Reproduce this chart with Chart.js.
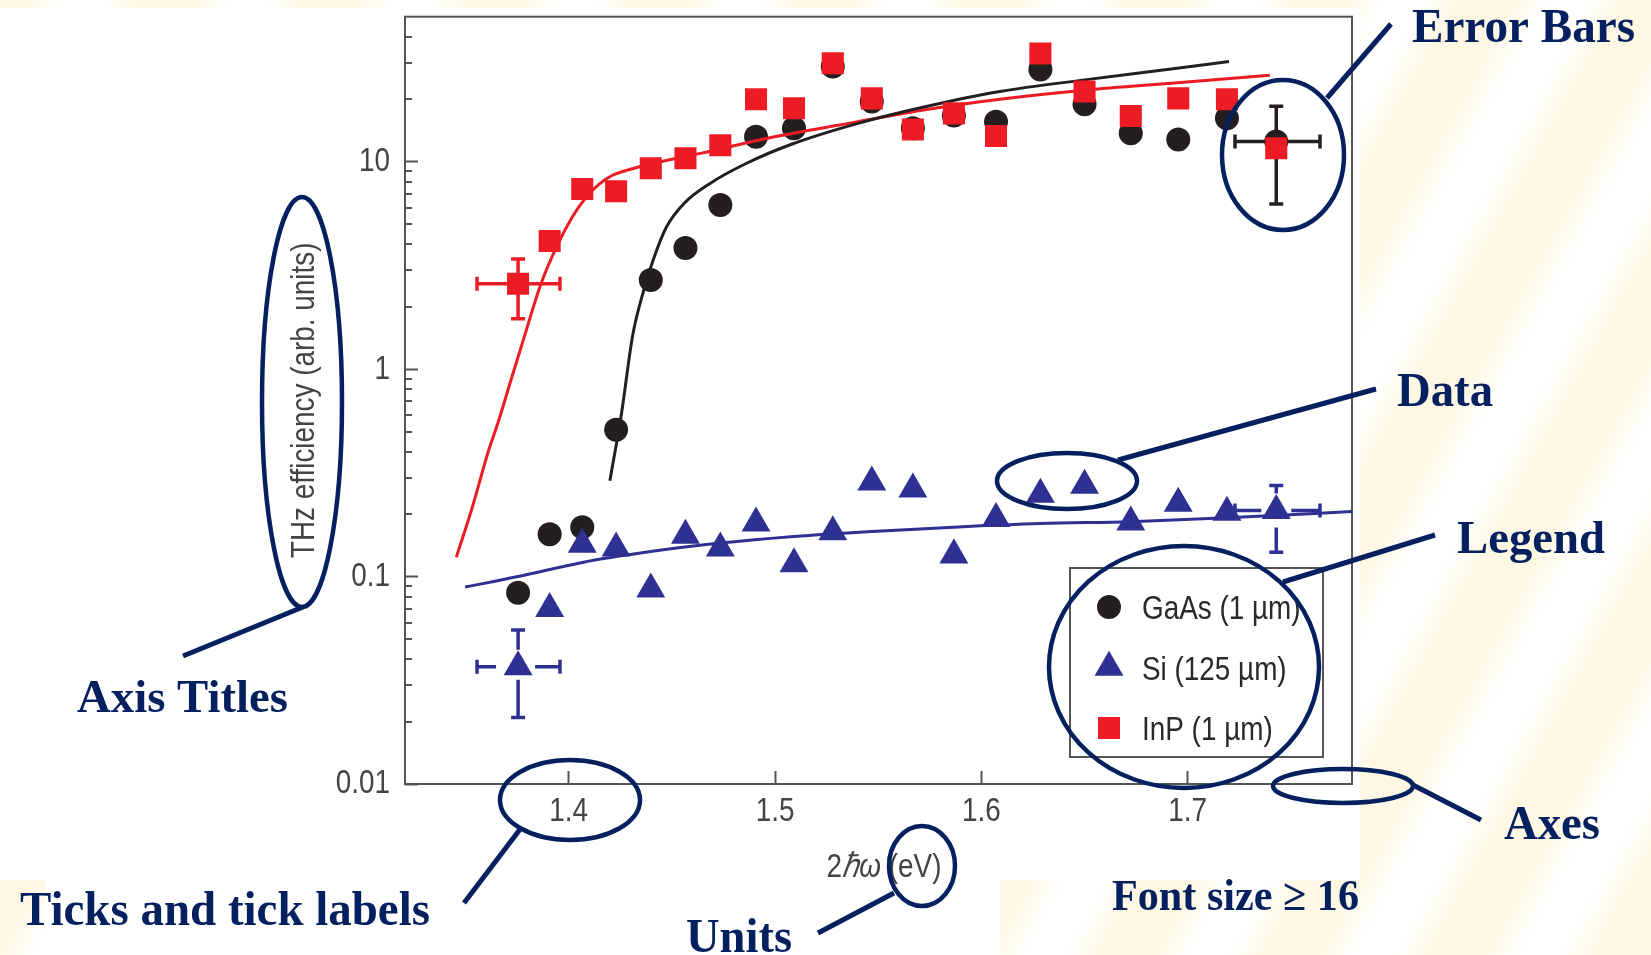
<!DOCTYPE html>
<html lang="fr">
<head>
<meta charset="utf-8">
<title>THz efficiency</title>
<script src="https://cdn.jsdelivr.net/npm/chart.js@4.4.1/dist/chart.umd.min.js"></script>
<style>
  html, body { margin: 0; padding: 0; background: #fffdf6; }
  #conteneur { position: relative; width: 1651px; height: 955px; }
  canvas { display: block; }
</style>
</head>
<body>
<div id="conteneur"><canvas id="mon-canvas" width="1651" height="955"></canvas></div>
<script>
// Energie 2ħω (eV), commune aux trois séries
const energie = [1.3755, 1.3908, 1.4066, 1.423, 1.4398, 1.4566, 1.4735, 1.4908, 1.5092, 1.528,
  1.5469, 1.5668, 1.5867, 1.6071, 1.6286, 1.65, 1.6724, 1.6954, 1.719, 1.7429];
const gaas = [0.0836, 0.160, 0.173, 0.51, 2.69, 3.84, 6.18, 13.2, 14.5, 28.8,
  19.5, 14.5, 16.7, 15.6, 27.8, 18.9, 13.7, 12.8, 16.2, 12.5];
const si = [0.0367, 0.070, 0.143, 0.137, 0.087, 0.158, 0.137, 0.181, 0.115, 0.164,
  0.285, 0.264, 0.127, 0.190, 0.249, 0.275, 0.183, 0.225, 0.204, 0.208];
const inp = [2.58, 4.15, 7.38, 7.21, 9.30, 10.4, 12.0, 20.0, 18.1, 29.8,
  20.2, 14.3, 17.1, 13.3, 33.2, 21.8, 16.6, 20.2, 20.0, 11.6];

// Courbes d'ajustement
const fitGaasX = [1.420, 1.4256, 1.431, 1.4364, 1.4407, 1.4472, 1.456, 1.4689, 1.486, 1.5077, 1.5402, 1.5727, 1.609, 1.65, 1.69, 1.72];
const fitGaasY = [0.29, 0.61, 1.45, 2.4, 3.3, 4.8, 6.3, 7.9, 9.8, 12.1, 15.3, 18.4, 21.8, 24.8, 27.8, 30.4];
const fitInpX = [1.3456, 1.3535, 1.3607, 1.3661, 1.3715, 1.378, 1.3866, 1.3942, 1.4017, 1.4083, 1.4148, 1.4213, 1.43, 1.4385,
  1.4645, 1.497, 1.5402, 1.5727, 1.609, 1.65, 1.695, 1.7398];
const fitInpY = [0.124, 0.219, 0.39, 0.565, 0.85, 1.38, 2.58, 3.9, 5.4, 6.7, 7.8, 8.6, 9.2, 9.7,
  11.0, 13.0, 15.6, 17.8, 20.0, 22.1, 24.0, 26.1];
const fitSiX = [1.3498, 1.3755, 1.4066, 1.4398, 1.4735, 1.5092, 1.5469, 1.5867, 1.6286, 1.6724, 1.719, 1.7796];
const fitSiY = [0.089, 0.100, 0.117, 0.132, 0.145, 0.156, 0.165, 0.173, 0.180, 0.184, 0.192, 0.206];

// Barres d'erreur : [x, y, xMin, xMax, yMin, yMax]
const erreurGaas = [1.7429, 12.5, 1.7229, 1.7641, 6.25, 18.5];
const erreurInp = [1.3755, 2.58, 1.3556, 1.3958, 1.75, 3.40];
const erreurSiGauche = [1.3755, 0.0367, 1.3556, 1.3958, 0.0209, 0.0553];
const erreurSiDroite = [1.7429, 0.208, 1.7229, 1.7641, 0.131, 0.275];

// Graduations
const ticksX = [1.4, 1.5, 1.6, 1.7];
const ticksY = [0.01, 0.1, 1, 10];
const labelsY = ['0.01', '0.1', '1', '10'];
const ticksYMineurs = [0.02, 0.03, 0.04, 0.05, 0.06, 0.07, 0.08, 0.09,
  0.2, 0.3, 0.4, 0.5, 0.6, 0.7, 0.8, 0.9, 2, 3, 4, 5, 6, 7, 8, 9, 20, 30, 40];

const noir = '#231f20';
const rouge = '#ed1c24';
const bleu = '#2e3192';
const marine = '#05205f';
const gris = '#444444';
const police = "'Liberation Sans', Arial, sans-serif";

// Annotations de la diapositive (pixels)
const ellipses = [[302, 402, 40, 205], [1283, 155, 61, 75], [1067, 481, 70, 28], [1184, 667, 135, 121],
  [570, 800, 70, 40], [922, 866, 33, 40], [1343, 786, 70, 17]];
const traits = [[303, 607, 183, 656], [1327, 98, 1391, 24], [1118, 460, 1376, 389], [1283, 582, 1435, 535],
  [521, 828, 464, 903], [894, 893, 818, 933], [1413, 785, 1481, 820]];
const etiquettes = [['Error Bars', 1412, 42, 223, 48], ['Data', 1397, 406, 96, 48], ['Legend', 1457, 553, 148, 47],
  ['Axes', 1504, 839, 96, 48], ['Font size ≥ 16', 1112, 910, 247, 44], ['Ticks and tick labels', 20, 925, 410, 48],
  ['Axis Titles', 77, 712, 211, 47], ['Units', 686, 952, 106, 48]];

// Le texte de la figure est en Helvetica condensé : on resserre horizontalement
let etroit = 0.82;
function condenserTexte(c2d) {
  const fillTextOrig = c2d.fillText.bind(c2d);
  c2d.fillText = function (texte, x, y) {
    if (etroit === 1) return fillTextOrig(texte, x, y);
    c2d.save();
    c2d.translate(x, y);
    c2d.scale(etroit, 1);
    fillTextOrig(texte, 0, 0);
    c2d.restore();
  };
}

function points(xs, ys) {
  return xs.map((x, i) => ({ x: x, y: ys[i] }));
}

// fond rayé de la diapo + image blanche du graphique
const fondPlugin = {
  id: 'fond',
  beforeDraw(chart) {
    const ctx = chart.ctx;
    const W = chart.width, H = chart.height;
    ctx.save();
    ctx.fillStyle = '#fdf7e3';
    ctx.fillRect(0, 0, W, H);
    ctx.filter = 'blur(12px)';
    ctx.fillStyle = '#ffffff';
    for (let k = -10; k < 20; k++) {
      const x0 = k * 165;
      ctx.beginPath();
      ctx.moveTo(x0, H + 30);
      ctx.lineTo(x0 + 75, H + 30);
      ctx.lineTo(x0 + 75 + 0.55 * (H + 60), -30);
      ctx.lineTo(x0 + 0.55 * (H + 60), -30);
      ctx.closePath();
      ctx.fill();
    }
    ctx.filter = 'none';
    ctx.fillStyle = '#ffffff';
    ctx.fillRect(0, 8, 1360, 872);
    ctx.fillRect(45, 880, 955, 75);
    ctx.restore();
  }
};

function dessinerErreur(ctx, xs, ys, e, couleur, ecart) {
  const px = xs.getPixelForValue(e[0]);
  const py = ys.getPixelForValue(e[1]);
  const gauche = xs.getPixelForValue(e[2]);
  const droite = xs.getPixelForValue(e[3]);
  const bas = ys.getPixelForValue(e[4]);
  const haut = ys.getPixelForValue(e[5]);
  const cap = 7;
  ctx.strokeStyle = couleur;
  ctx.lineWidth = 3.5;
  ctx.beginPath();
  ctx.moveTo(gauche, py); ctx.lineTo(px - ecart[0], py);
  ctx.moveTo(px + ecart[1], py); ctx.lineTo(droite, py);
  ctx.moveTo(px, haut); ctx.lineTo(px, py - ecart[2]);
  ctx.moveTo(px, py + ecart[3]); ctx.lineTo(px, bas);
  ctx.moveTo(gauche, py - cap); ctx.lineTo(gauche, py + cap);
  ctx.moveTo(droite, py - cap); ctx.lineTo(droite, py + cap);
  ctx.moveTo(px - cap, haut); ctx.lineTo(px + cap, haut);
  ctx.moveTo(px - cap, bas); ctx.lineTo(px + cap, bas);
  ctx.stroke();
}

// cadre, graduations mineures et barres d'erreur
const cadrePlugin = {
  id: 'cadre',
  beforeDatasetsDraw(chart) {
    const { ctx, chartArea: a, scales: { x, y } } = chart;
    ctx.save();
    ctx.strokeStyle = '#555555';
    ctx.lineWidth = 2;
    ctx.strokeRect(a.left, a.top, a.right - a.left, a.bottom - a.top);
    ctx.beginPath();
    ticksYMineurs.forEach(v => {
      const py = Math.round(y.getPixelForValue(v));
      ctx.moveTo(a.left, py);
      ctx.lineTo(a.left + 7, py);
    });
    ctx.stroke();
    dessinerErreur(ctx, x, y, erreurInp, rouge, [0, 0, 0, 0]);
    dessinerErreur(ctx, x, y, erreurGaas, noir, [0, 0, 0, 0]);
    dessinerErreur(ctx, x, y, erreurSiGauche, bleu, [22, 17, 17, 13]);
    dessinerErreur(ctx, x, y, erreurSiDroite, bleu, [15, 15, 17, 17]);
    ctx.restore();
  }
};

// légende dans le coin bas droit du graphique
const legendePlugin = {
  id: 'legende',
  afterDatasetsDraw(chart) {
    const { ctx, chartArea: a } = chart;
    const gauche = a.right - 282, haut = a.bottom - 216;
    ctx.save();
    ctx.fillStyle = '#ffffff';
    ctx.fillRect(gauche, haut, 253, 189);
    ctx.strokeStyle = '#555555';
    ctx.lineWidth = 2;
    ctx.strokeRect(gauche, haut, 253, 189);
    const series = chart.data.datasets.filter(d => d.enLegende);
    series.sort((d1, d2) => d1.rangLegende - d2.rangLegende);
    series.forEach((d, i) => {
      const cy = haut + 39 + i * 60.5;
      ctx.fillStyle = d.pointBackgroundColor;
      Chart.helpers.drawPoint(ctx, { pointStyle: d.pointStyle, radius: d.pointRadius, rotation: 0, borderWidth: 0 }, gauche + 39, cy);
      ctx.fillStyle = '#2a2a2a';
      ctx.font = '34px ' + police;
      ctx.textBaseline = 'alphabetic';
      ctx.textAlign = 'left';
      ctx.fillText(d.label, gauche + 72, cy + 12);
    });
    ctx.restore();
  }
};

// titre de l'axe x avec ħω en italique
const titreXPlugin = {
  id: 'titreX',
  afterDraw(chart) {
    const ctx = chart.ctx;
    const morceaux = [['2', ''], ['ℏω', 'italic '], [' (eV)', '']];
    ctx.save();
    ctx.fillStyle = gris;
    ctx.textBaseline = 'alphabetic';
    ctx.textAlign = 'left';
    let total = 0;
    morceaux.forEach(m => { ctx.font = m[1] + '34px ' + police; total += ctx.measureText(m[0]).width * etroit; });
    let x = 884 - total / 2;
    morceaux.forEach(m => {
      ctx.font = m[1] + '34px ' + police;
      ctx.fillText(m[0], x, 877);
      x += ctx.measureText(m[0]).width * etroit;
    });
    ctx.restore();
  }
};

const annotationsPlugin = {
  id: 'annotations',
  afterDraw(chart) {
    const ctx = chart.ctx;
    ctx.save();
    ctx.strokeStyle = marine;
    ctx.fillStyle = marine;
    ctx.lineWidth = 4.5;
    ellipses.forEach(([cx, cy, rx, ry]) => {
      ctx.beginPath();
      ctx.ellipse(cx, cy, rx, ry, 0, 0, 2 * Math.PI);
      ctx.stroke();
    });
    ctx.lineWidth = 5;
    traits.forEach(([x1, y1, x2, y2]) => {
      ctx.beginPath();
      ctx.moveTo(x1, y1);
      ctx.lineTo(x2, y2);
      ctx.stroke();
    });
    ctx.textBaseline = 'alphabetic';
    ctx.textAlign = 'left';
    etroit = 1; // les étiquettes de la diapo ont leur propre largeur
    etiquettes.forEach(([texte, x, y, largeur, taille]) => {
      ctx.font = 'bold ' + taille + "px 'Liberation Serif', 'Times New Roman', serif";
      const w = ctx.measureText(texte).width;
      ctx.save();
      ctx.translate(x, y);
      ctx.scale(largeur / w, 1);
      ctx.fillText(texte, 0, 0);
      ctx.restore();
    });
    etroit = 0.82;
    ctx.restore();
  }
};

const datas = {
  datasets: [
    {
      label: 'GaAs (1 µm)', data: points(energie, gaas), order: 5,
      pointStyle: 'circle', pointRadius: 12, pointBackgroundColor: noir, pointBorderWidth: 0,
      enLegende: true, rangLegende: 0
    },
    {
      label: 'ajustement GaAs', data: points(fitGaasX, fitGaasY), order: 4, showLine: true,
      pointRadius: 0, borderColor: noir, borderWidth: 3, cubicInterpolationMode: 'monotone'
    },
    {
      label: 'ajustement InP', data: points(fitInpX, fitInpY), order: 4, showLine: true,
      pointRadius: 0, borderColor: rouge, borderWidth: 3, cubicInterpolationMode: 'monotone'
    },
    {
      label: 'ajustement Si', data: points(fitSiX, fitSiY), order: 4, showLine: true,
      pointRadius: 0, borderColor: bleu, borderWidth: 3, cubicInterpolationMode: 'monotone'
    },
    {
      label: 'Si (125 µm)', data: points(energie, si), order: 2,
      pointStyle: 'triangle', pointRadius: 16.7, pointBackgroundColor: bleu, pointBorderWidth: 0,
      enLegende: true, rangLegende: 1
    },
    {
      label: 'InP (1 µm)', data: points(energie, inp), order: 1,
      pointStyle: 'rect', pointRadius: 15.6, pointBackgroundColor: rouge, pointBorderWidth: 0,
      enLegende: true, rangLegende: 2
    }
  ]
};

const grille = { display: true, drawOnChartArea: false, drawTicks: true, tickLength: -13, tickWidth: 2, tickColor: '#555555' };

const config = {
  type: 'scatter',
  data: datas,
  options: {
    responsive: false,
    animation: false,
    events: [],
    layout: { padding: { top: 12, right: 299, bottom: 0, left: 0 } },
    plugins: { legend: { display: false }, tooltip: { enabled: false } },
    scales: {
      x: {
        type: 'linear', min: 1.3207, max: 1.7796,
        afterBuildTicks: s => { s.ticks = ticksX.map(v => ({ value: v })); },
        afterFit: s => { s.height = 171; s.paddingLeft = 0; s.paddingRight = 0; },
        grid: grille,
        border: { display: false },
        ticks: { font: { family: police, size: 34 }, color: gris, padding: 20, maxRotation: 0, autoSkip: false,
          callback: v => v.toFixed(1) }
      },
      y: {
        type: 'logarithmic', min: 0.01, max: 50,
        afterBuildTicks: s => { s.ticks = ticksY.map(v => ({ value: v, major: true })); },
        afterFit: s => { s.width = 405; s.paddingTop = 0; s.paddingBottom = 0; },
        grid: grille,
        border: { display: false },
        ticks: { font: { family: police, size: 34 }, color: gris, padding: 28, autoSkip: false,
          callback: (v, i) => labelsY[i] },
        title: { display: true, text: 'THz efficiency (arb. units)', color: gris,
          font: { family: police, size: 34 }, padding: { top: 284, bottom: 0 } }
      }
    }
  },
  plugins: [fondPlugin, cadrePlugin, legendePlugin, titreXPlugin, annotationsPlugin]
};

const canvas = document.getElementById('mon-canvas');
condenserTexte(canvas.getContext('2d'));
const monGraphique = new Chart(canvas, config);
</script>
</body>
</html>
